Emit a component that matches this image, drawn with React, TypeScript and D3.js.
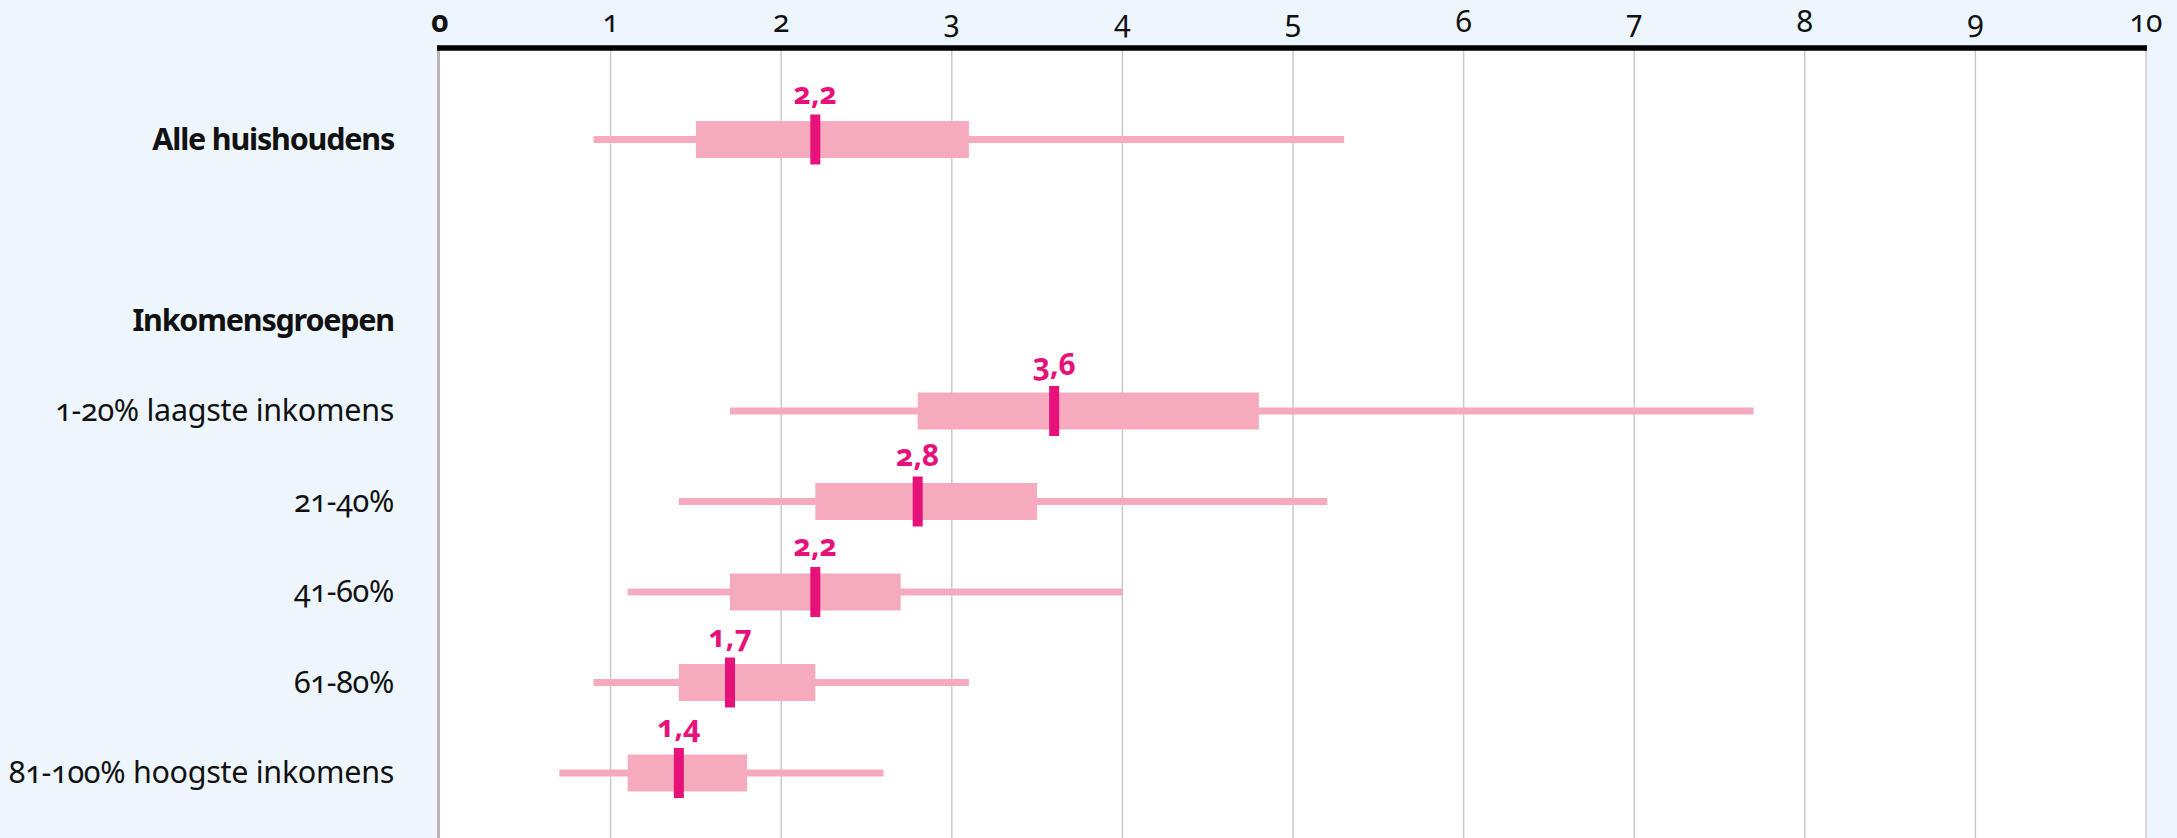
import { useEffect, useRef } from 'react';
import * as d3 from 'd3';

// rows top to bottom; blank slot between the total and the group header
const categories = [
  'Alle huishoudens',
  '',
  'Inkomensgroepen',
  '1-20% laagste inkomens',
  '21-40%',
  '41-60%',
  '61-80%',
  '81-100% hoogste inkomens',
];
const boldRows = ['Alle huishoudens', 'Inkomensgroepen'];

const boxRows = ['Alle huishoudens', '1-20% laagste inkomens', '21-40%', '41-60%', '61-80%', '81-100% hoogste inkomens'];
const whiskerLow = [0.9, 1.7, 1.4, 1.1, 0.9, 0.7];
const boxLow = [1.5, 2.8, 2.2, 1.7, 1.4, 1.1];
const medians = [2.2, 3.6, 2.8, 2.2, 1.7, 1.4];
const boxHigh = [3.1, 4.8, 3.5, 2.7, 2.2, 1.8];
const whiskerHigh = [5.3, 7.7, 5.2, 4.0, 3.1, 2.6];

const ticks = [0, 1, 2, 3, 4, 5, 6, 7, 8, 9, 10];

const W = 2177;
const H = 838;
const FONT = '"Noto Sans", "Open Sans", sans-serif';

export default function App() {
  const svgRef = useRef<SVGSVGElement | null>(null);

  useEffect(() => {
    const svgEl = svgRef.current;
    if (!svgEl) return;
    const svg = d3.select(svgEl);
    svg.selectAll('*').remove();

    const axisY = 48;
    const x = d3.scaleLinear().domain([0, 10]).range([440, 2146]);
    const y = d3.scalePoint<string>().domain(categories).range([139.5, 773]);

    svg.append('rect').attr('width', W).attr('height', H).attr('fill', '#eef6fd');
    svg.append('rect')
      .attr('x', x(0)).attr('y', axisY)
      .attr('width', x(10) - x(0)).attr('height', H - axisY)
      .attr('fill', '#ffffff');

    // gridlines
    svg.append('g')
      .selectAll('line')
      .data(ticks.slice(1))
      .join('line')
      .attr('x1', (d) => x(d)).attr('x2', (d) => x(d))
      .attr('y1', axisY).attr('y2', H)
      .attr('stroke', '#cbc8ca').attr('stroke-width', 1.5);

    svg.append('line')
      .attr('x1', x(0) - 1.5).attr('x2', x(0) - 1.5)
      .attr('y1', axisY).attr('y2', H)
      .attr('stroke', '#bcb3b6').attr('stroke-width', 3);

    svg.append('line')
      .attr('x1', x(0) - 3).attr('x2', x(10) + 1)
      .attr('y1', axisY).attr('y2', axisY)
      .attr('stroke', '#000').attr('stroke-width', 5.5);

    svg.append('g')
      .selectAll('text')
      .data(ticks)
      .join('text')
      .attr('x', (d) => x(d)).attr('y', 32)
      .attr('text-anchor', 'middle')
      .attr('font-family', FONT)
      .attr('font-size', 30)
      .attr('font-weight', (d) => (d === 0 ? 700 : 400))
      .style('font-variant-numeric', 'oldstyle-nums')
      .attr('fill', '#111')
      .text((d) => String(d));

    svg.append('g')
      .selectAll('text')
      .data(categories.filter((c) => c !== ''))
      .join('text')
      .attr('x', 394)
      .attr('y', (d) => (y(d) ?? 0) + 10)
      .attr('text-anchor', 'end')
      .attr('font-family', FONT)
      .attr('font-size', 30.5)
      .attr('font-weight', (d) => (boldRows.includes(d) ? 700 : 400))
      .style('font-variant-numeric', 'oldstyle-nums')
      .attr('letter-spacing', (d) => (boldRows.includes(d) ? -1.2 : -0.3))
      .attr('fill', '#111')
      .text((d) => d);

    const rows = boxRows.map((name, i) => ({
      name,
      cy: y(name) ?? 0,
      wl: whiskerLow[i],
      bl: boxLow[i],
      med: medians[i],
      bh: boxHigh[i],
      wh: whiskerHigh[i],
    }));

    const g = svg.append('g');
    g.selectAll('rect.whisker')
      .data(rows)
      .join('rect')
      .attr('class', 'whisker')
      .attr('x', (d) => x(d.wl)).attr('y', (d) => d.cy - 3.5)
      .attr('width', (d) => x(d.wh) - x(d.wl)).attr('height', 7)
      .attr('fill', '#f5aabe');
    g.selectAll('rect.box')
      .data(rows)
      .join('rect')
      .attr('class', 'box')
      .attr('x', (d) => x(d.bl)).attr('y', (d) => d.cy - 18.5)
      .attr('width', (d) => x(d.bh) - x(d.bl)).attr('height', 37)
      .attr('fill', '#f5aabe');
    g.selectAll('rect.median')
      .data(rows)
      .join('rect')
      .attr('class', 'median')
      .attr('x', (d) => x(d.med) - 5).attr('y', (d) => d.cy - 25)
      .attr('width', 10).attr('height', 50)
      .attr('fill', '#e6127a');
    g.selectAll('text.medlabel')
      .data(rows)
      .join('text')
      .attr('class', 'medlabel')
      .attr('x', (d) => x(d.med)).attr('y', (d) => d.cy - 36)
      .attr('text-anchor', 'middle')
      .attr('font-family', FONT)
      .attr('font-size', 30)
      .attr('font-weight', 700)
      .style('font-variant-numeric', 'oldstyle-nums')
      .attr('fill', '#e6127a')
      .text((d) => String(d.med).replace('.', ','));
  }, []);

  return (
    <div style={{ position: 'absolute', left: 0, top: 0 }}>
      <svg ref={svgRef} width={W} height={H} style={{ display: 'block' }} />
    </div>
  );
}
